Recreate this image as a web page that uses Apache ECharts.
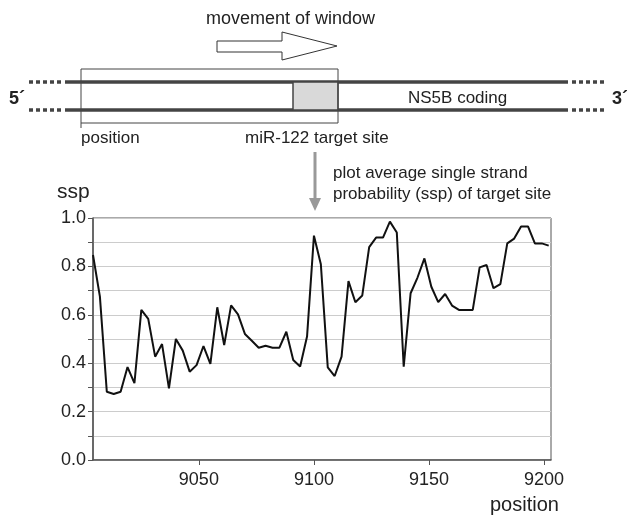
<!DOCTYPE html>
<html>
<head>
<meta charset="utf-8">
<script src="https://cdn.jsdelivr.net/npm/echarts@6/dist/echarts.min.js"></script>
<style>
  html, body { margin: 0; padding: 0; background: #fff; }
  #chart { width: 627px; height: 517px; }
</style>
</head>
<body>
<div id="chart"></div>
<script>
// window start positions (nt)
const positions = [
  9004, 9007, 9010, 9013, 9016, 9019, 9022, 9025, 9028, 9031,
  9034, 9037, 9040, 9043, 9046, 9049, 9052, 9055, 9058, 9061,
  9064, 9067, 9070, 9073, 9076, 9079, 9082, 9085, 9088, 9091,
  9094, 9097, 9100, 9103, 9106, 9109, 9112, 9115, 9118, 9121,
  9124, 9127, 9130, 9133, 9136, 9139, 9142, 9145, 9148, 9151,
  9154, 9157, 9160, 9163, 9166, 9169, 9172, 9175, 9178, 9181,
  9184, 9187, 9190, 9193, 9196, 9199, 9202
]
// average single strand probability of the target site
const ssp = [
  0.847, 0.675, 0.282, 0.273, 0.282, 0.384, 0.318, 0.620, 0.583, 0.427,
  0.479, 0.296, 0.500, 0.452, 0.365, 0.392, 0.471, 0.397, 0.631, 0.475,
  0.639, 0.602, 0.521, 0.493, 0.464, 0.472, 0.464, 0.464, 0.530, 0.413,
  0.386, 0.510, 0.927, 0.809, 0.383, 0.347, 0.427, 0.739, 0.652, 0.680,
  0.880, 0.919, 0.919, 0.985, 0.940, 0.386, 0.689, 0.754, 0.833, 0.716,
  0.652, 0.686, 0.638, 0.620, 0.620, 0.620, 0.796, 0.806, 0.710, 0.727,
  0.895, 0.915, 0.965, 0.965, 0.895, 0.895, 0.886
]
const xTicks = [9050, 9100, 9150, 9200]

const font = 'Liberation Sans, Arial, sans-serif'
const strand = '#444'

let myChart = echarts.init(document.getElementById('chart'))

const txt = (x, y, text, size, extra) => ({
  type: 'text', x: x, y: y,
  style: Object.assign({ text: text, fill: '#222', font: size + 'px ' + font, textVerticalAlign: 'middle' }, extra || {})
})
const ln = (x1, y1, x2, y2, style) => ({
  type: 'line', shape: { x1: x1, y1: y1, x2: x2, y2: y2 }, style: style
})

myChart.setOption({
  animation: false,
  grid: { left: 93, top: 218, width: 458, height: 242, show: true, borderColor: '#555', borderWidth: 1 },
  xAxis: {
    type: 'value', min: 9004, max: 9203,
    axisLine: { lineStyle: { color: '#555', width: 1.5 } },
    axisTick: { customValues: xTicks, length: 5, lineStyle: { color: '#555' } },
    axisLabel: {
      customValues: xTicks, color: '#222', fontSize: 18, fontFamily: font, margin: 11,
      formatter: v => String(v)
    },
    splitLine: { show: false }
  },
  yAxis: {
    type: 'value', min: 0, max: 1, interval: 0.1,
    axisLine: { show: true, lineStyle: { color: '#555', width: 1.5 } },
    axisTick: { show: true, length: 5, lineStyle: { color: '#555' } },
    axisLabel: {
      color: '#222', fontSize: 18, fontFamily: font, margin: 7,
      formatter: v => (Math.round(v * 10) % 2 === 0 ? v.toFixed(1) : '')
    },
    splitLine: { lineStyle: { color: '#ccc', width: 1 } }
  },
  series: [{
    type: 'line',
    data: positions.map((p, i) => [p, ssp[i]]),
    showSymbol: false,
    lineStyle: { color: '#111', width: 2 }
  }],
  graphic: [
    // header & window arrow
    txt(206, 19, 'movement of window', 18),
    {
      type: 'polygon',
      shape: { points: [[217, 41], [282, 41], [282, 32], [337, 46], [282, 60], [282, 52], [217, 52]] },
      style: { fill: '#fff', stroke: '#333', lineWidth: 1 }
    },
    // strands
    ln(29, 82, 63, 82, { stroke: strand, lineWidth: 3.5, lineDash: [4, 3] }),
    ln(29, 110, 63, 110, { stroke: strand, lineWidth: 3.5, lineDash: [4, 3] }),
    ln(65, 82, 568, 82, { stroke: strand, lineWidth: 3.5 }),
    ln(65, 110, 568, 110, { stroke: strand, lineWidth: 3.5 }),
    ln(572, 82, 604, 82, { stroke: strand, lineWidth: 3.5, lineDash: [4, 3] }),
    ln(572, 110, 604, 110, { stroke: strand, lineWidth: 3.5, lineDash: [4, 3] }),
    // target site box
    {
      type: 'rect', shape: { x: 293, y: 82, width: 45, height: 28 },
      style: { fill: '#d9d9d9', stroke: strand, lineWidth: 1.5 }
    },
    // sliding window
    {
      type: 'rect', shape: { x: 81, y: 69, width: 257, height: 54 },
      style: { fill: 'none', stroke: '#444', lineWidth: 1 }
    },
    ln(81, 123, 81, 128, { stroke: '#444', lineWidth: 1 }),
    txt(9, 99, '5\u00b4', 18, { font: 'bold 18px ' + font }),
    txt(612, 99, '3\u00b4', 18, { font: 'bold 18px ' + font }),
    txt(408, 98, 'NS5B coding', 17),
    txt(81, 138, 'position', 17),
    txt(245, 138, 'miR-122 target site', 17),
    // down arrow
    ln(315, 152, 315, 200, { stroke: '#999', lineWidth: 3 }),
    {
      type: 'polygon', shape: { points: [[309, 198], [321, 198], [315, 211]] },
      style: { fill: '#999' }
    },
    txt(333, 173, 'plot average single strand', 17),
    txt(333, 194, 'probability (ssp) of target site', 17),
    // axis titles
    txt(57, 192, 'ssp', 21),
    txt(490, 505, 'position', 20)
  ]
})
</script>
</body>
</html>
